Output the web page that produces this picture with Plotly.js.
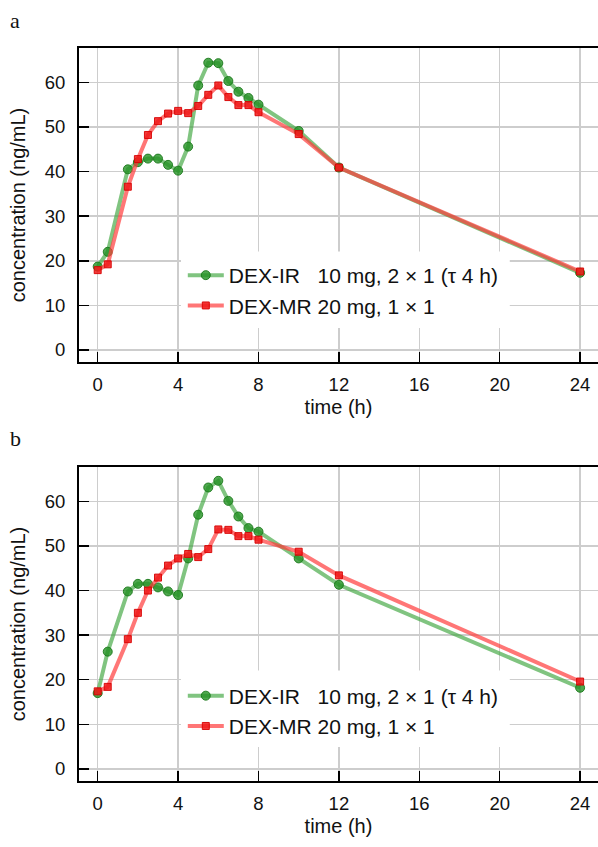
<!DOCTYPE html>
<html>
<head>
<meta charset="utf-8">
<script src="https://cdn.plot.ly/plotly-3.0.1.min.js"></script>
<style>html,body{margin:0;padding:0;background:#fff;}#chart{width:598px;height:847px;}</style>
</head>
<body>
<div id="chart"></div>
<script>
// time points (h)
const time = [0, 0.5, 1.5, 2, 2.5, 3, 3.5, 4, 4.5, 5, 5.5, 6, 6.5, 7, 7.5, 8, 10, 12, 24];

// panel a
const irA = [18.7, 22.0, 40.5, 42.1, 42.9, 42.9, 41.5, 40.2, 45.6, 59.3, 64.4, 64.3, 60.3, 57.9, 56.5, 55.0, 49.1, 40.9, 17.3];
const mrA = [17.9, 19.2, 36.6, 42.8, 48.2, 51.3, 53.0, 53.6, 53.1, 54.7, 57.2, 59.3, 56.7, 54.9, 54.9, 53.3, 48.4, 40.9, 17.6];

// panel b
const irB = [17.0, 26.3, 39.8, 41.5, 41.5, 40.7, 39.8, 39.0, 47.2, 57.0, 63.1, 64.6, 60.1, 56.6, 54.0, 53.2, 47.2, 41.3, 18.2];
const mrB = [17.4, 18.4, 29.1, 35.0, 40.0, 42.9, 45.6, 47.2, 48.2, 47.5, 49.3, 53.7, 53.6, 52.2, 52.2, 51.4, 48.7, 43.4, 19.6];

const seriesNames = ['DEX-IR\u00a0\u00a0\u00a010 mg, 2 × 1 (τ 4 h)', 'DEX-MR 20 mg, 1 × 1'];
const panelLabels = ['a', 'b'];
const xTicks = [0, 4, 8, 12, 16, 20, 24];
const yTicks = [0, 10, 20, 30, 40, 50, 60];
const xTitle = 'time (h)';
const yTitle = 'concentration (ng/mL)';

const FONT = 'Liberation Sans, Arial, Helvetica, sans-serif';
const greenLine = 'rgba(60,165,60,0.65)';
const greenMarker = 'rgba(35,145,35,0.8)';
const greenEdge = 'rgba(25,120,25,0.9)';
const redLine = 'rgba(255,60,60,0.7)';
const redMarker = 'rgba(240,25,25,0.85)';
const redEdge = 'rgba(215,0,0,0.9)';

function irTrace(y, xa, ya, leg) {
  return {x: time, y: y, xaxis: xa, yaxis: ya, legend: leg, name: seriesNames[0], type: 'scatter', mode: 'lines+markers',
    line: {color: greenLine, width: 4},
    marker: {symbol: 'circle', size: 9, color: greenMarker, line: {color: greenEdge, width: 1}}};
}
function mrTrace(y, xa, ya, leg) {
  return {x: time, y: y, xaxis: xa, yaxis: ya, legend: leg, name: seriesNames[1], type: 'scatter', mode: 'lines+markers',
    line: {color: redLine, width: 4},
    marker: {symbol: 'square', size: 7, color: redMarker, line: {color: redEdge, width: 1}}};
}

const data = [
  irTrace(irA, 'x', 'y', 'legend'),
  mrTrace(mrA, 'x', 'y', 'legend'),
  irTrace(irB, 'x2', 'y2', 'legend2'),
  mrTrace(mrB, 'x2', 'y2', 'legend2')
];

function xAxis(anchor) {
  return {anchor: anchor, range: [-0.93, 24.89], tickmode: 'array', tickvals: xTicks, ticktext: xTicks.map(String),
    ticks: 'inside', ticklen: 10, tickwidth: 1.5, tickcolor: '#000',
    showline: true, linecolor: '#000', linewidth: 2, mirror: true,
    showgrid: true, gridcolor: '#cdcdcd', gridwidth: 1.5, zeroline: false,
    tickfont: {family: FONT, size: 18.5, color: '#111'}, ticklabelstandoff: 5,
    title: {text: xTitle, font: {family: FONT, size: 20, color: '#111'}, standoff: 6},
    automargin: false, fixedrange: true};
}
function yAxis(anchor, domain) {
  return {anchor: anchor, domain: domain, range: [-2.7, 67.7], tickmode: 'array', tickvals: yTicks, ticktext: yTicks.map(String),
    ticks: 'inside', ticklen: 10, tickwidth: 1.5, tickcolor: '#000',
    showline: true, linecolor: '#000', linewidth: 2, mirror: false,
    showgrid: true, gridcolor: '#cdcdcd', gridwidth: 1.5, zeroline: false,
    tickfont: {family: FONT, size: 18.5, color: '#111'}, ticklabelstandoff: 8,
    title: {text: yTitle, font: {family: FONT, size: 20, color: '#111'}, standoff: 14},
    automargin: false, fixedrange: true};
}

function legendObj(ytop) {
  return {x: 0.2, y: ytop, xanchor: 'left', yanchor: 'top', bgcolor: '#fff', borderwidth: 0,
    font: {family: FONT, size: 21, color: '#111'}, itemwidth: 36, tracegroupgap: 0};
}

// white panel behind each legend, hiding the grid there (no trace passes through it)
function legendBack(xr, yr) {
  return {type: 'rect', xref: xr + ' domain', yref: yr + ' domain', x0: 0.1965, x1: 0.83, y0: 0.108, y1: 0.352,
    layer: 'above', fillcolor: '#fff', line: {width: 0}};
}

const layout = {
  width: 598, height: 847,
  margin: {l: 79, r: 0, t: 48, b: 66},
  paper_bgcolor: '#fff', plot_bgcolor: '#fff',
  showlegend: true,
  xaxis: xAxis('y'),
  yaxis: yAxis('x', [0.5716, 1]),
  xaxis2: xAxis('y2'),
  yaxis2: yAxis('x2', [0, 0.4284]),
  legend: legendObj(0.7176),
  legend2: legendObj(0.1439),
  shapes: [
    {type: 'line', xref: 'x', yref: 'y domain', x0: 4, x1: 4, y0: 0, y1: 1, layer: 'below', line: {color: '#9a9a9a', width: 1.5}},
    {type: 'line', xref: 'x2', yref: 'y2 domain', x0: 4, x1: 4, y0: 0, y1: 1, layer: 'below', line: {color: '#9a9a9a', width: 1.5}},
    legendBack('x', 'y'),
    legendBack('x2', 'y2')
  ],
  annotations: [
    {text: panelLabels[0], xref: 'paper', yref: 'paper', x: -0.137, y: 1.0378, xanchor: 'left', yanchor: 'middle', showarrow: false,
      font: {family: 'Liberation Serif, Times New Roman, serif', size: 22, color: '#111'}},
    {text: panelLabels[1], xref: 'paper', yref: 'paper', x: -0.137, y: 0.4666, xanchor: 'left', yanchor: 'middle', showarrow: false,
      font: {family: 'Liberation Serif, Times New Roman, serif', size: 22, color: '#111'}}
  ]
};

Plotly.newPlot('chart', data, layout, {displayModeBar: false, staticPlot: true});
</script>
</body>
</html>
